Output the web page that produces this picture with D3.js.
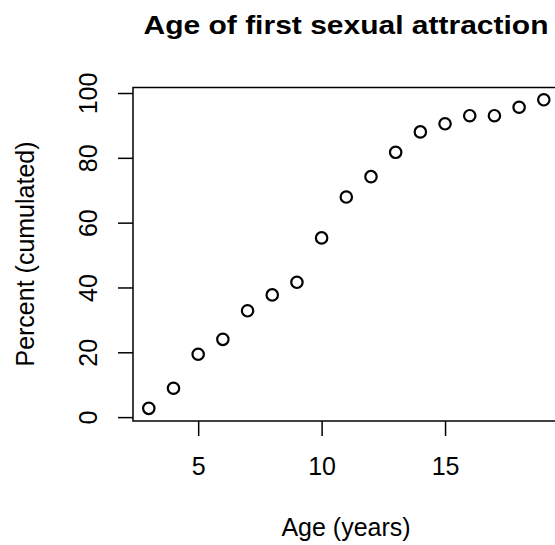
<!DOCTYPE html>
<html>
<head>
<meta charset="utf-8">
<script src="https://cdn.jsdelivr.net/npm/d3@7"></script>
<style>
	body { margin: 0; background: #fff; }
	text { font-family: "Liberation Sans", Arial, Helvetica, sans-serif; fill: #000; }
</style>
</head>
<body>
<svg width="555" height="545"></svg>
<script>
// ages and cumulated percentages
const ages = [3, 4, 5, 6, 7, 8, 9, 10, 11, 12, 13, 14, 15, 16, 17, 18, 19]
const percents = [2.7, 8.9, 19.4, 24.0, 32.8, 37.7, 41.6, 55.3, 67.9, 74.2, 81.7, 88.0, 90.5, 93.0, 93.0, 95.6, 97.9]
const xTicks = [5, 10, 15]
const yTicks = [0, 20, 40, 60, 80, 100]

const data = ages.map((a, i) => ({ age: a, pct: percents[i] }))

const svg = d3.select('svg')

// R style 4% padding around the data range
let xScale = d3.scaleLinear()
	.domain([2.36, 19.64])
	.range([133, 559.6])

let yScale = d3.scaleLinear()
	.domain([-1.2, 101.7])
	.range([421, 87.5])

// plot box
svg.append('rect')
	.attr('x', 133)
	.attr('y', 87.5)
	.attr('width', 559.6 - 133)
	.attr('height', 421 - 87.5)
	.attr('fill', 'none')
	.attr('stroke', '#000')
	.attr('stroke-width', 1.5)

let bottomAxisG = svg.append('g')
	.attr('transform', 'translate(0, 421)')
let bottomAxis = d3.axisBottom(xScale)
	.tickValues(xTicks)
	.tickSize(15)
	.tickPadding(21)
bottomAxisG.call(bottomAxis)
bottomAxisG.select('.domain').remove()
bottomAxisG.selectAll('line').attr('stroke', '#000').attr('stroke-width', 1.5)
bottomAxisG.selectAll('text')
	.attr('font-size', 25)
	.attr('font-family', '"Liberation Sans", Arial, sans-serif')

let leftAxisG = svg.append('g')
	.attr('transform', 'translate(133, 0)')
let leftAxis = d3.axisLeft(yScale)
	.tickValues(yTicks)
	.tickSize(15)
leftAxisG.call(leftAxis)
leftAxisG.select('.domain').remove()
leftAxisG.selectAll('line').attr('stroke', '#000').attr('stroke-width', 1.5)
leftAxisG.selectAll('text')
	.attr('x', null)
	.attr('dy', null)
	.attr('font-size', 25)
	.attr('font-family', '"Liberation Sans", Arial, sans-serif')
	.attr('text-anchor', 'middle')
	.attr('transform', 'translate(-36, 0) rotate(-90)')

// points
svg.append('g')
	.selectAll('circle')
	.data(data)
	.enter()
	.append('circle')
	.attr('cx', d => xScale(d.age))
	.attr('cy', d => yScale(d.pct))
	.attr('r', 5.7)
	.attr('fill', 'none')
	.attr('stroke', '#000')
	.attr('stroke-width', 2.2)

// title glyphs are a bit flatter in the original
svg.append('text')
	.attr('transform', 'translate(346, 34) scale(1, 0.88)')
	.attr('text-anchor', 'middle')
	.attr('font-size', 30)
	.attr('font-weight', 'bold')
	.text('Age of first sexual attraction')

svg.append('text')
	.attr('x', 346)
	.attr('y', 536)
	.attr('text-anchor', 'middle')
	.attr('font-size', 25)
	.text('Age (years)')

svg.append('text')
	.attr('transform', 'translate(34, 254) rotate(-90)')
	.attr('text-anchor', 'middle')
	.attr('font-size', 25)
	.text('Percent (cumulated)')
</script>
</body>
</html>
